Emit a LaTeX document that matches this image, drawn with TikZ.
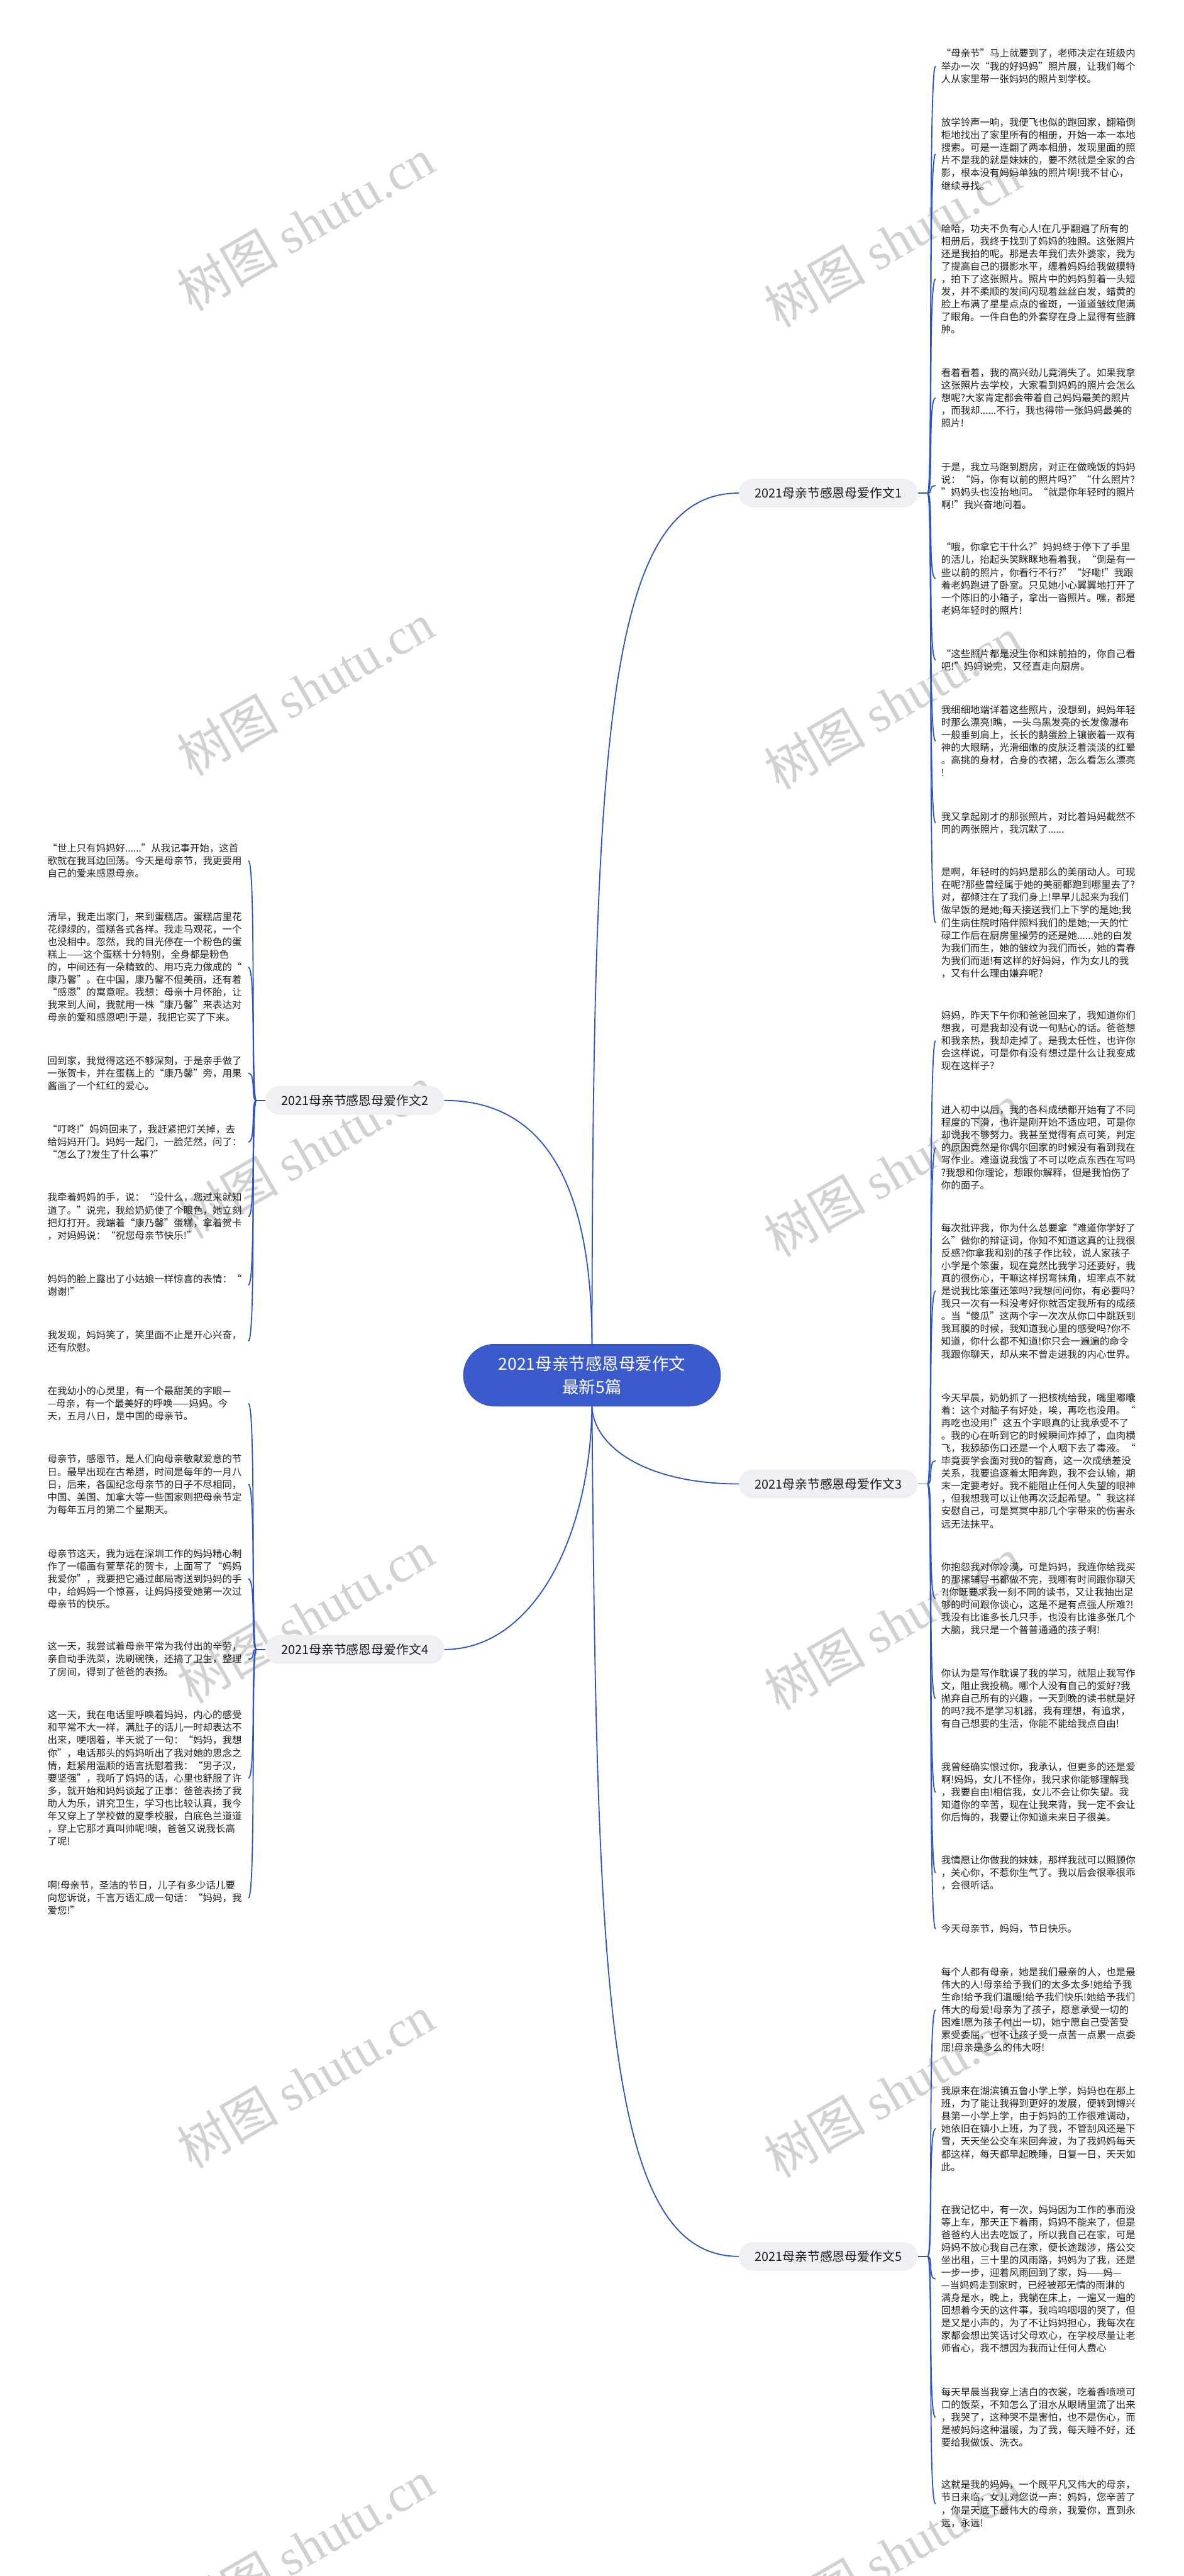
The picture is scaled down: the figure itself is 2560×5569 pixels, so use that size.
\documentclass[tikz,border=0pt]{standalone}
\usepackage{fontspec}
\setmainfont{Noto Sans CJK SC}
\newfontfamily\wmserif{Liberation Serif}
\setlength{\parindent}{0pt}
\definecolor{mainblue}{RGB}{59,91,204}
\definecolor{linkblue}{RGB}{47,84,195}
\definecolor{bfill}{RGB}{238,240,244}

\begin{document}
\begin{tikzpicture}[x=1pt,y=1pt,
  link/.style={draw=linkblue,line width=2.5pt},
  rbr/.style={out=0,in=180,out distance=12pt,in distance=17pt},
  lbr/.style={out=180,in=0,out distance=12pt,in distance=17pt},
  topic/.style={fill=mainblue,draw=mainblue!85!black,line width=1pt,rounded corners=67pt,
    minimum width=556pt,minimum height=134pt,inner sep=0pt,text=white,align=center,
    font=\fontsize{36}{50}\selectfont},
  branch/.style={fill=bfill,rounded corners=31pt,minimum width=387pt,minimum height=62pt,
    inner sep=0pt,text=black!90,font=\fontsize{27}{32}\selectfont},
  txt/.style={text width=422pt,align=left,inner xsep=12pt,inner ysep=0pt,text=black!88,
    font=\fontsize{21}{27.3}\selectfont},
  rtxt/.style={txt,anchor=west},
  ltxt/.style={txt,anchor=east},
  wm/.style={rotate=30,text=black!18,inner sep=0pt,font=\fontsize{110}{110}\selectfont}]

\useasboundingbox (0,0) rectangle (2560,-5569);

% Watermarks
\node[wm] (wm1) at (660,-485) {树图 {\wmserif shutu.cn}};
\node[wm] (wm2) at (660,-1490) {树图 {\wmserif shutu.cn}};
\node[wm] (wm3) at (660,-2490) {树图 {\wmserif shutu.cn}};
\node[wm] (wm4) at (660,-3495) {树图 {\wmserif shutu.cn}};
\node[wm] (wm5) at (660,-4500) {树图 {\wmserif shutu.cn}};
\node[wm] (wm6) at (660,-5505) {树图 {\wmserif shutu.cn}};
\node[wm] (wm7) at (1930,-520) {树图 {\wmserif shutu.cn}};
\node[wm] (wm8) at (1930,-1520) {树图 {\wmserif shutu.cn}};
\node[wm] (wm9) at (1930,-2530) {树图 {\wmserif shutu.cn}};
\node[wm] (wm10) at (1930,-3510) {树图 {\wmserif shutu.cn}};
\node[wm] (wm11) at (1930,-4520) {树图 {\wmserif shutu.cn}};
\node[wm] (wm12) at (1930,-5520) {树图 {\wmserif shutu.cn}};

% Central topic
\node[topic] (main) at (1280,-2973) {2021母亲节感恩母爱作文\\最新5篇};

% Branches
\node[branch] (b1) at (1791,-1066) {2021母亲节感恩母爱作文1};
\node[branch] (b2) at (767,-2379) {2021母亲节感恩母爱作文2};
\node[branch] (b3) at (1791,-3208) {2021母亲节感恩母爱作文3};
\node[branch] (b4) at (767,-3566) {2021母亲节感恩母爱作文4};
\node[branch] (b5) at (1791,-4878) {2021母亲节感恩母爱作文5};

\draw[link] (main.north) .. controls (1282,-1600) and (1310,-1066) .. (b1.west);
\draw[link] (main.north) .. controls (1280,-2600) and (1200,-2379) .. (b2.east);
\draw[link] (main.south) .. controls (1284,-3130) and (1400,-3208) .. (b3.west);
\draw[link] (main.south) .. controls (1276,-3330) and (1150,-3566) .. (b4.east);
\draw[link] (main.south) .. controls (1290,-4300) and (1310,-4878) .. (b5.west);

% --- Branch 1 ---
\coordinate (b1j) at (2006,-1066);
\draw[link] (b1.east) -- (b1j);

\node[rtxt] (r1a) at (2023,-143) {“母亲节”马上就要到了，老师决定在班级内\\举办一次“我的好妈妈”照片展，让我们每个\\人从家里带一张妈妈的照片到学校。};
\node[rtxt] (r1b) at (2023,-333) {放学铃声一响，我便飞也似的跑回家，翻箱倒\\柜地找出了家里所有的相册，开始一本一本地\\搜索。可是一连翻了两本相册，发现里面的照\\片不是我的就是妹妹的，要不然就是全家的合\\影，根本没有妈妈单独的照片啊!我不甘心，\\继续寻找。};
\node[rtxt] (r1c) at (2023,-603) {哈哈，功夫不负有心人!在几乎翻遍了所有的\\相册后，我终于找到了妈妈的独照。这张照片\\还是我拍的呢。那是去年我们去外婆家，我为\\了提高自己的摄影水平，缠着妈妈给我做模特\\，拍下了这张照片。照片中的妈妈剪着一头短\\发，并不柔顺的发间闪现着丝丝白发，蜡黄的\\脸上布满了星星点点的雀斑，一道道皱纹爬满\\了眼角。一件白色的外套穿在身上显得有些臃\\肿。};
\node[rtxt] (r1d) at (2023,-860) {看着看着，我的高兴劲儿竟消失了。如果我拿\\这张照片去学校，大家看到妈妈的照片会怎么\\想呢?大家肯定都会带着自己妈妈最美的照片\\，而我却......不行，我也得带一张妈妈最美的\\照片!};
\node[rtxt] (r1e) at (2023,-1050) {于是，我立马跑到厨房，对正在做晚饭的妈妈\\说：“妈，你有以前的照片吗?”“什么照片?\\”妈妈头也没抬地问。“就是你年轻时的照片\\啊!”我兴奋地问着。};
\node[rtxt] (r1f) at (2023,-1251) {“哦，你拿它干什么?”妈妈终于停下了手里\\的活儿，抬起头笑眯眯地看着我，“倒是有一\\些以前的照片，你看行不行?”“好嘞!”我跟\\着老妈跑进了卧室。只见她小心翼翼地打开了\\一个陈旧的小箱子，拿出一沓照片。嘿，都是\\老妈年轻时的照片!};
\node[rtxt] (r1g) at (2023,-1427) {“这些照片都是没生你和妹前拍的，你自己看\\吧!”妈妈说完，又径直走向厨房。};
\node[rtxt] (r1h) at (2023,-1602) {我细细地端详着这些照片，没想到，妈妈年轻\\时那么漂亮!瞧，一头乌黑发亮的长发像瀑布\\一般垂到肩上，长长的鹅蛋脸上镶嵌着一双有\\神的大眼睛，光滑细嫩的皮肤泛着淡淡的红晕\\。高挑的身材，合身的衣裙，怎么看怎么漂亮\\!};
\node[rtxt] (r1i) at (2023,-1779) {我又拿起刚才的那张照片，对比着妈妈截然不\\同的两张照片，我沉默了......};
\node[rtxt] (r1j) at (2023,-1995) {是啊，年轻时的妈妈是那么的美丽动人。可现\\在呢?那些曾经属于她的美丽都跑到哪里去了?\\对，都倾注在了我们身上!早早儿起来为我们\\做早饭的是她;每天接送我们上下学的是她;我\\们生病住院时陪伴照料我们的是她;一天的忙\\碌工作后在厨房里操劳的还是她......她的白发\\为我们而生，她的皱纹为我们而长，她的青春\\为我们而逝!有这样的好妈妈，作为女儿的我\\，又有什么理由嫌弃呢?};

\draw[link] (b1j) to[rbr] (r1a.west);
\draw[link] (b1j) to[rbr] (r1b.west);
\draw[link] (b1j) to[rbr] (r1c.west);
\draw[link] (b1j) to[rbr] (r1d.west);
\draw[link] (b1j) to[rbr] (r1e.west);
\draw[link] (b1j) to[rbr] (r1f.west);
\draw[link] (b1j) to[rbr] (r1g.west);
\draw[link] (b1j) to[rbr] (r1h.west);
\draw[link] (b1j) to[rbr] (r1i.west);
\draw[link] (b1j) to[rbr] (r1j.west);

% --- Branch 2 ---
\coordinate (b2j) at (554,-2379);
\draw[link] (b2.west) -- (b2j);

\node[ltxt] (l2a) at (537,-1861) {“世上只有妈妈好......”从我记事开始，这首\\歌就在我耳边回荡。今天是母亲节，我更要用\\自己的爱来感恩母亲。};
\node[ltxt] (l2b) at (537,-2091) {清早，我走出家门，来到蛋糕店。蛋糕店里花\\花绿绿的，蛋糕各式各样。我走马观花，一个\\也没相中。忽然，我的目光停在一个粉色的蛋\\糕上——这个蛋糕十分特别，全身都是粉色\\的，中间还有一朵精致的、用巧克力做成的“\\康乃馨”。在中国，康乃馨不但美丽，还有着\\“感恩”的寓意呢。我想：母亲十月怀胎，让\\我来到人间，我就用一株“康乃馨”来表达对\\母亲的爱和感恩吧!于是，我把它买了下来。};
\node[ltxt] (l2c) at (537,-2320) {回到家，我觉得这还不够深刻，于是亲手做了\\一张贺卡，并在蛋糕上的“康乃馨”旁，用果\\酱画了一个红红的爱心。};
\node[ltxt] (l2d) at (537,-2469) {“叮咚!”妈妈回来了，我赶紧把灯关掉，去\\给妈妈开门。妈妈一起门，一脸茫然，问了：\\“怎么了?发生了什么事?”};
\node[ltxt] (l2e) at (537,-2630) {我牵着妈妈的手，说：“没什么，您过来就知\\道了。”说完，我给奶奶使了个眼色，她立刻\\把灯打开。我端着“康乃馨”蛋糕，拿着贺卡\\，对妈妈说：“祝您母亲节快乐!”};
\node[ltxt] (l2f) at (537,-2778) {妈妈的脸上露出了小姑娘一样惊喜的表情：“\\谢谢!”};
\node[ltxt] (l2g) at (537,-2899) {我发现，妈妈笑了，笑里面不止是开心兴奋，\\还有欣慰。};

\draw[link] (b2j) to[lbr] (l2a.east);
\draw[link] (b2j) to[lbr] (l2b.east);
\draw[link] (b2j) to[lbr] (l2c.east);
\draw[link] (b2j) to[lbr] (l2d.east);
\draw[link] (b2j) to[lbr] (l2e.east);
\draw[link] (b2j) to[lbr] (l2f.east);
\draw[link] (b2j) to[lbr] (l2g.east);

% --- Branch 3 ---
\coordinate (b3j) at (2006,-3208);
\draw[link] (b3.east) -- (b3j);

\node[rtxt] (r3a) at (2023,-2250) {妈妈，昨天下午你和爸爸回来了，我知道你们\\想我，可是我却没有说一句贴心的话。爸爸想\\和我亲热，我却走掉了。是我太任性，也许你\\会这样说，可是你有没有想过是什么让我变成\\现在这样子?};
\node[rtxt] (r3b) at (2023,-2481) {进入初中以后，我的各科成绩都开始有了不同\\程度的下滑，也许是刚开始不适应吧，可是你\\却说我不够努力。我甚至觉得有点可笑，判定\\的原因竟然是你偶尔回家的时候没有看到我在\\写作业。难道说我饿了不可以吃点东西在写吗\\?我想和你理论，想跟你解释，但是我怕伤了\\你的面子。};
\node[rtxt] (r3c) at (2023,-2791) {每次批评我，你为什么总要拿“难道你学好了\\么”做你的辩证词，你知不知道这真的让我很\\反感?你拿我和别的孩子作比较，说人家孩子\\小学是个笨蛋，现在竟然比我学习还要好，我\\真的很伤心，干嘛这样拐弯抹角，坦率点不就\\是说我比笨蛋还笨吗?我想问问你，有必要吗?\\我只一次有一科没考好你就否定我所有的成绩\\。当“傻瓜”这两个字一次次从你口中跳跃到\\我耳膜的时候，我知道我心里的感受吗?你不\\知道，你什么都不知道!你只会一遍遍的命令\\我跟你聊天，却从来不曾走进我的内心世界。};
\node[rtxt] (r3d) at (2023,-3158) {今天早晨，奶奶抓了一把核桃给我，嘴里嘟囔\\着：这个对脑子有好处，唉，再吃也没用。“\\再吃也没用!”这五个字眼真的让我承受不了\\。我的心在听到它的时候瞬间炸掉了，血肉横\\飞，我舔舔伤口还是一个人咽下去了毒液。“\\毕竟要学会面对我0的智商，这一次成绩差没\\关系，我要追逐着太阳奔跑，我不会认输，期\\末一定要考好。我不能阻止任何人失望的眼神\\，但我想我可以让他再次泛起希望。”我这样\\安慰自己，可是冥冥中那几个字带来的伤害永\\远无法抹平。};
\node[rtxt] (r3e) at (2023,-3456) {你抱怨我对你冷漠，可是妈妈，我连你给我买\\的那摞辅导书都做不完，我哪有时间跟你聊天\\?!你既要求我一刻不同的读书，又让我抽出足\\够的时间跟你谈心，这是不是有点强人所难?!\\我没有比谁多长几只手，也没有比谁多张几个\\大脑，我只是一个普普通通的孩子啊!};
\node[rtxt] (r3f) at (2023,-3672) {你认为是写作耽误了我的学习，就阻止我写作\\文，阻止我投稿。哪个人没有自己的爱好?我\\抛弃自己所有的兴趣，一天到晚的读书就是好\\的吗?我不是学习机器，我有理想，有追求，\\有自己想要的生活，你能不能给我点自由!};
\node[rtxt] (r3g) at (2023,-3875) {我曾经确实恨过你，我承认，但更多的还是爱\\啊!妈妈，女儿不怪你，我只求你能够理解我\\，我要自由!相信我，女儿不会让你失望。我\\知道你的辛苦，现在让我来背，我一定不会让\\你后悔的，我要让你知道未来日子很美。};
\node[rtxt] (r3h) at (2023,-4049) {我情愿让你做我的妹妹，那样我就可以照顾你\\，关心你，不惹你生气了。我以后会很乖很乖\\，会很听话。};
\node[rtxt] (r3i) at (2023,-4170) {今天母亲节，妈妈，节日快乐。};

\draw[link] (b3j) to[rbr] (r3a.west);
\draw[link] (b3j) to[rbr] (r3b.west);
\draw[link] (b3j) to[rbr] (r3c.west);
\draw[link] (b3j) to[rbr] (r3d.west);
\draw[link] (b3j) to[rbr] (r3e.west);
\draw[link] (b3j) to[rbr] (r3f.west);
\draw[link] (b3j) to[rbr] (r3g.west);
\draw[link] (b3j) to[rbr] (r3h.west);
\draw[link] (b3j) to[rbr] (r3i.west);

% --- Branch 4 ---
\coordinate (b4j) at (554,-3566);
\draw[link] (b4.west) -- (b4j);

\node[ltxt] (l4a) at (537,-3034) {在我幼小的心灵里，有一个最甜美的字眼—\\—母亲，有一个最美好的呼唤——妈妈。今\\天，五月八日，是中国的母亲节。};
\node[ltxt] (l4b) at (537,-3209) {母亲节，感恩节，是人们向母亲敬献爱意的节\\日。最早出现在古希腊，时间是每年的一月八\\日，后来，各国纪念母亲节的日子不尽相同，\\中国、美国、加拿大等一些国家则把母亲节定\\为每年五月的第二个星期天。};
\node[ltxt] (l4c) at (537,-3413) {母亲节这天，我为远在深圳工作的妈妈精心制\\作了一幅画有萱草花的贺卡，上面写了“妈妈\\我爱你”，我要把它通过邮局寄送到妈妈的手\\中，给妈妈一个惊喜，让妈妈接受她第一次过\\母亲节的快乐。};
\node[ltxt] (l4d) at (537,-3587) {这一天，我尝试着母亲平常为我付出的辛劳，\\亲自动手洗菜，洗刷碗筷，还搞了卫生，整理\\了房间，得到了爸爸的表扬。};
\node[ltxt] (l4e) at (537,-3844) {这一天，我在电话里呼唤着妈妈，内心的感受\\和平常不大一样，满肚子的话儿一时却表达不\\出来，哽咽着，半天说了一句：“妈妈，我想\\你”，电话那头的妈妈听出了我对她的思念之\\情，赶紧用温顺的语言抚慰着我：“男子汉，\\要坚强”，我听了妈妈的话，心里也舒服了许\\多，就开始和妈妈谈起了正事：爸爸表扬了我\\助人为乐，讲究卫生，学习也比较认真，我今\\年又穿上了学校做的夏季校服，白底色兰道道\\，穿上它那才真叫帅呢!噢，爸爸又说我长高\\了呢!};
\node[ltxt] (l4f) at (537,-4103) {啊!母亲节，圣洁的节日，儿子有多少话儿要\\向您诉说，千言万语汇成一句话：“妈妈，我\\爱您!”};

\draw[link] (b4j) to[lbr] (l4a.east);
\draw[link] (b4j) to[lbr] (l4b.east);
\draw[link] (b4j) to[lbr] (l4c.east);
\draw[link] (b4j) to[lbr] (l4d.east);
\draw[link] (b4j) to[lbr] (l4e.east);
\draw[link] (b4j) to[lbr] (l4f.east);

% --- Branch 5 ---
\coordinate (b5j) at (2006,-4878);
\draw[link] (b5.east) -- (b5j);

\node[rtxt] (r5a) at (2023,-4345) {每个人都有母亲，她是我们最亲的人，也是最\\伟大的人!母亲给予我们的太多太多!她给予我\\生命!给予我们温暖!给予我们快乐!她给予我们\\伟大的母爱!母亲为了孩子，愿意承受一切的\\困难!愿为孩子付出一切，她宁愿自己受苦受\\累受委屈，也不让孩子受一点苦一点累一点委\\屈!母亲是多么的伟大呀!};
\node[rtxt] (r5b) at (2023,-4602) {我原来在湖滨镇五鲁小学上学，妈妈也在那上\\班，为了能让我得到更好的发展，便转到博兴\\县第一小学上学，由于妈妈的工作很难调动，\\她依旧在镇小上班，为了我，不管刮风还是下\\雪，天天坐公交车来回奔波，为了我妈妈每天\\都这样，每天都早起晚睡，日复一日，天天如\\此。};
\node[rtxt] (r5c) at (2023,-4927) {在我记忆中，有一次，妈妈因为工作的事而没\\等上车，那天正下着雨，妈妈不能来了，但是\\爸爸约人出去吃饭了，所以我自己在家，可是\\妈妈不放心我自己在家，便长途跋涉，搭公交\\坐出租，三十里的风雨路，妈妈为了我，还是\\一步一步，迎着风雨回到了家，妈——妈—\\—当妈妈走到家时，已经被那无情的雨淋的\\满身是水，晚上，我躺在床上，一遍又一遍的\\回想着今天的这件事，我呜呜咽咽的哭了，但\\是又是小声的，为了不让妈妈担心，我每次在\\家都会想出笑话讨父母欢心，在学校尽量让老\\师省心，我不想因为我而让任何人费心};
\node[rtxt] (r5d) at (2023,-5226) {每天早晨当我穿上洁白的衣裳，吃着香喷喷可\\口的饭菜，不知怎么了泪水从眼睛里流了出来\\，我哭了，这种哭不是害怕，也不是伤心，而\\是被妈妈这种温暖，为了我，每天睡不好，还\\要给我做饭、洗衣。};
\node[rtxt] (r5e) at (2023,-5413) {这就是我的妈妈，一个既平凡又伟大的母亲，\\节日来临，女儿对您说一声：妈妈，您辛苦了\\，你是天底下最伟大的母亲，我爱你，直到永\\远，永远!};

\draw[link] (b5j) to[rbr] (r5a.west);
\draw[link] (b5j) to[rbr] (r5b.west);
\draw[link] (b5j) to[rbr] (r5c.west);
\draw[link] (b5j) to[rbr] (r5d.west);
\draw[link] (b5j) to[rbr] (r5e.west);

\end{tikzpicture}
\end{document}
